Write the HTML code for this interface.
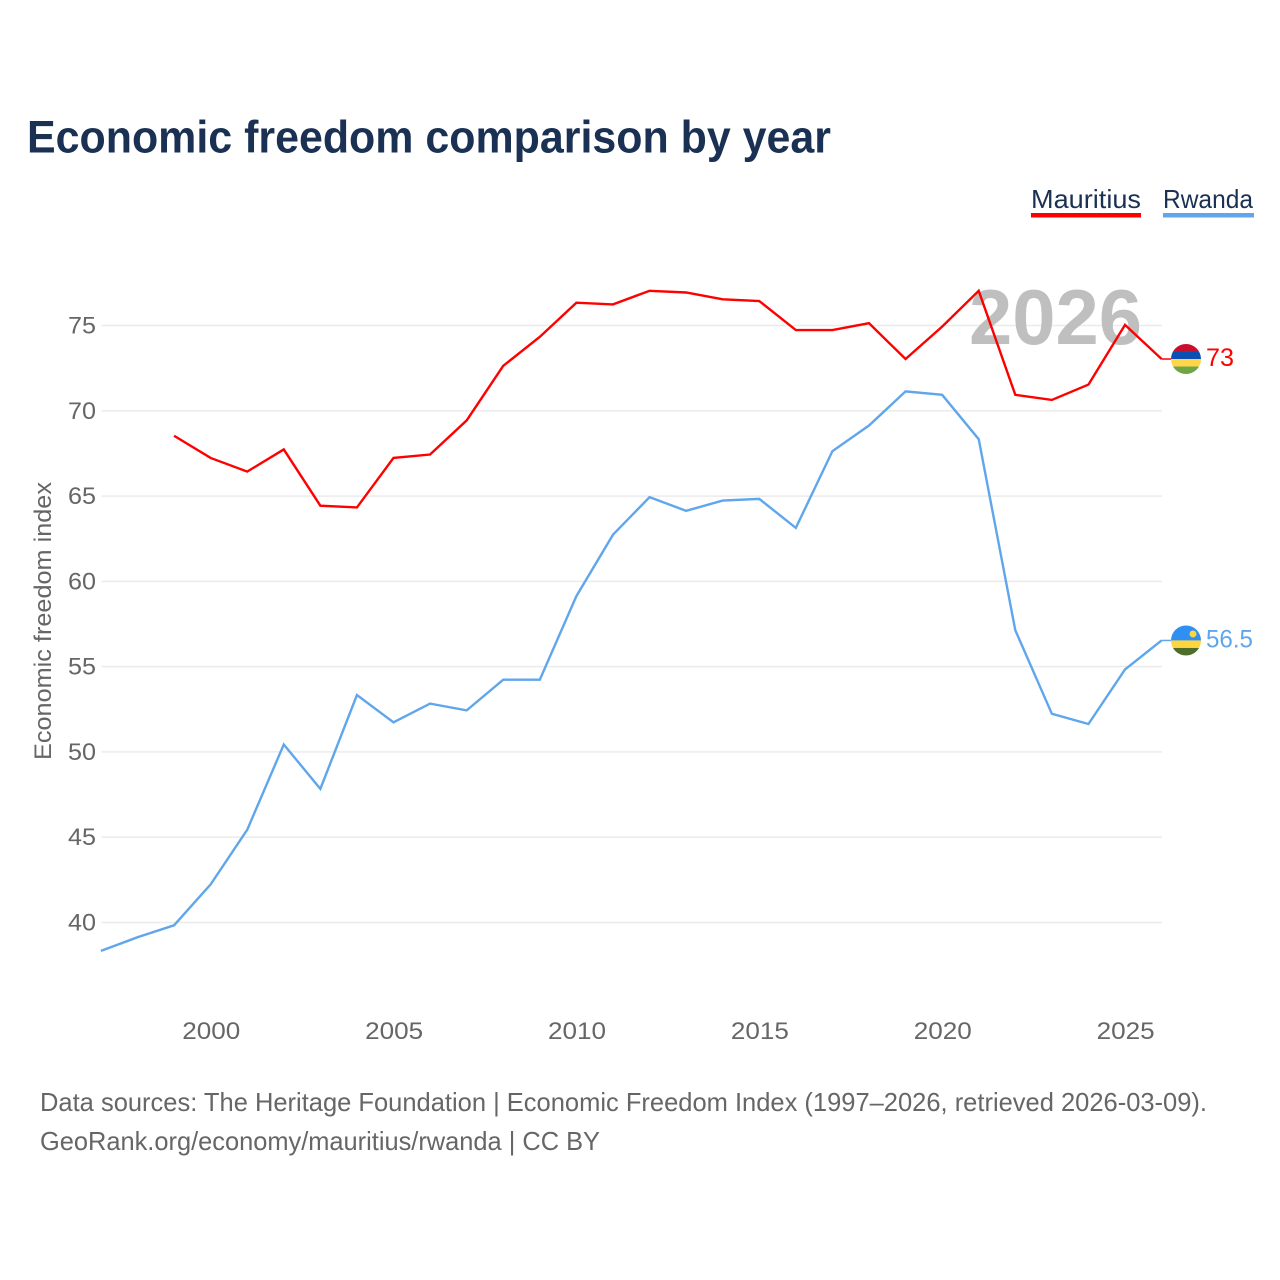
<!DOCTYPE html>
<html lang="en">
<head>
<meta charset="utf-8">
<title>Economic freedom comparison by year</title>
<style>
html,body{margin:0;padding:0;background:#fff;width:1280px;height:1280px;overflow:hidden}
svg{display:block}
text{font-family:"Liberation Sans",sans-serif}
</style>
</head>
<body>
<svg id="chart" xmlns="http://www.w3.org/2000/svg" width="1280" height="1280" viewBox="0 0 1280 1280">
  <rect width="1280" height="1280" fill="#fff"/>
  <text x="27" y="152.5" font-size="45" font-weight="700" fill="#1a3153" textLength="804" lengthAdjust="spacingAndGlyphs">Economic freedom comparison by year</text>
  <g>
    <text x="1031" y="208" font-size="26" fill="#1a3153" textLength="110" lengthAdjust="spacingAndGlyphs">Mauritius</text>
    <rect x="1031" y="213" width="110" height="4.5" fill="#ff0000"/>
  </g>
  <g>
    <text x="1163" y="208" font-size="26" fill="#1a3153" textLength="90" lengthAdjust="spacingAndGlyphs">Rwanda</text>
    <rect x="1163" y="213" width="91" height="4.5" fill="#5fa6ec"/>
  </g>
  <text transform="translate(51,760) rotate(-90)" font-size="24" fill="#666" textLength="278" lengthAdjust="spacingAndGlyphs">Economic freedom index</text>
  <g id="grid"></g>
  <g id="yticks"></g>
  <g id="xticks"></g>
  <text x="969" y="344" font-size="78" font-weight="700" fill="#bfbfbf" textLength="173" lengthAdjust="spacingAndGlyphs">2026</text>
  <g id="series"></g>
  <defs>
    <clipPath id="flag-clip-mauritius"><circle id="clip-m" r="15"/></clipPath>
    <clipPath id="flag-clip-rwanda"><circle id="clip-r" r="15"/></clipPath>
  </defs>
  <g id="flag-mauritius">
    <g clip-path="url(#flag-clip-mauritius)">
      <rect x="-15" y="-15" width="30" height="7.5" fill="#c8102e"/>
      <rect x="-15" y="-7.5" width="30" height="7.5" fill="#0a50b4"/>
      <rect x="-15" y="0" width="30" height="7.5" fill="#ffd54a"/>
      <rect x="-15" y="7.5" width="30" height="7.5" fill="#70a546"/>
    </g>
  </g>
  <g id="flag-rwanda">
    <g clip-path="url(#flag-clip-rwanda)">
      <rect x="-15" y="-15" width="30" height="15" fill="#2f8ff2"/>
      <rect x="-15" y="0" width="30" height="7.5" fill="#fdd53f"/>
      <rect x="-15" y="7.5" width="30" height="7.5" fill="#4f6d2a"/>
      <circle cx="7" cy="-6.5" r="3.5" fill="#fdd53f"/>
    </g>
  </g>
  <text id="label-mauritius" x="1206" font-size="25" fill="#ff0000" textLength="28" lengthAdjust="spacingAndGlyphs"></text>
  <text id="label-rwanda" x="1206" font-size="25" fill="#5fa6ec" textLength="47" lengthAdjust="spacingAndGlyphs"></text>
  <text x="40" y="1111" font-size="26" fill="#666" textLength="1167" lengthAdjust="spacingAndGlyphs">Data sources: The Heritage Foundation | Economic Freedom Index (1997–2026, retrieved 2026-03-09).</text>
  <text x="40" y="1150" font-size="26" fill="#666" textLength="560" lengthAdjust="spacingAndGlyphs">GeoRank.org/economy/mauritius/rwanda | CC BY</text>
</svg>
<script>
const years = [1997,1998,1999,2000,2001,2002,2003,2004,2005,2006,2007,2008,2009,2010,2011,2012,2013,2014,2015,2016,2017,2018,2019,2020,2021,2022,2023,2024,2025,2026];
const mauritiusValues = [null,null,68.5,67.2,66.4,67.7,64.4,64.3,67.2,67.4,69.4,72.6,74.3,76.3,76.2,77.0,76.9,76.5,76.4,74.7,74.7,75.1,73.0,74.9,77.0,70.9,70.6,71.5,75.0,73.0];
const rwandaValues = [38.3,39.1,39.8,42.2,45.4,50.4,47.8,53.3,51.7,52.8,52.4,54.2,54.2,59.1,62.7,64.9,64.1,64.7,64.8,63.1,67.6,69.1,71.1,70.9,68.3,57.1,52.2,51.6,54.8,56.5];
const yTickValues = [40,45,50,55,60,65,70,75];
const xTickValues = [2000,2005,2010,2015,2020,2025];

const NS = 'http://www.w3.org/2000/svg';
function xScale(year){ return 100.9 + (year - 1997) * (1161.6 - 100.9) / (2026 - 1997); }
function yScale(value){ return 921.9 - (value - 40) * (921.9 - 324.9) / (75 - 40); }

const grid = document.getElementById('grid');
const yticks = document.getElementById('yticks');
yTickValues.forEach(function(v){
  const line = document.createElementNS(NS, 'line');
  
  
  line.setAttribute('x1', xScale(1997) + 0.6);
  line.setAttribute('x2', xScale(2026) + 0.4);
  line.setAttribute('y1', yScale(v) + 0.6);
  line.setAttribute('y2', yScale(v) + 0.6);
  line.setAttribute('stroke', '#ebebeb');
  line.setAttribute('stroke-width', '1.5');
  grid.appendChild(line);
  const t = document.createElementNS(NS, 'text');
  
  
  t.setAttribute('x', 68);
  t.setAttribute('y', yScale(v) + 8.6);
  t.setAttribute('textLength', '28');
  t.setAttribute('lengthAdjust', 'spacingAndGlyphs');
  t.setAttribute('font-size', '24');
  t.setAttribute('fill', '#666');
  t.textContent = v;
  yticks.appendChild(t);
});

const xticks = document.getElementById('xticks');
xTickValues.forEach(function(y){
  const t = document.createElementNS(NS, 'text');
  
  
  t.setAttribute('x', xScale(y) - 28.4);
  t.setAttribute('y', 1039);
  t.setAttribute('textLength', '58');
  t.setAttribute('lengthAdjust', 'spacingAndGlyphs');
  t.setAttribute('font-size', '24');
  t.setAttribute('fill', '#666');
  t.textContent = y;
  xticks.appendChild(t);
});

function linePath(values){
  let d = '';
  values.forEach(function(v, i){
    if (v === null) return;
    d += (d ? 'L' : 'M') + xScale(years[i]).toFixed(2) + ' ' + yScale(v).toFixed(2);
  });
  return d;
}

const series = document.getElementById('series');
const rwandaLine = document.createElementNS(NS, 'path');


rwandaLine.setAttribute('d', linePath(rwandaValues));
rwandaLine.setAttribute('fill', 'none');
rwandaLine.setAttribute('stroke', '#5fa6ec');
rwandaLine.setAttribute('stroke-width', '2.4');
series.appendChild(rwandaLine);

const mauritiusLine = document.createElementNS(NS, 'path');


mauritiusLine.setAttribute('d', linePath(mauritiusValues));
mauritiusLine.setAttribute('fill', 'none');
mauritiusLine.setAttribute('stroke', '#ff0000');
mauritiusLine.setAttribute('stroke-width', '2.4');
series.appendChild(mauritiusLine);

function placeEnd(values, color, flagId, clipId, labelId, connectorName){
  const last = values[values.length - 1];
  const yPos = yScale(last);
  const c = document.createElementNS(NS, 'line');
  
  
  c.setAttribute('x1', xScale(2026));
  c.setAttribute('x2', 1171);
  c.setAttribute('y1', yPos);
  c.setAttribute('y2', yPos);
  c.setAttribute('stroke', color);
  c.setAttribute('stroke-width', '1.5');
  series.appendChild(c);
  document.getElementById(flagId).setAttribute('transform', 'translate(1186,' + yPos + ')');
  const clip = document.getElementById(clipId);
  clip.setAttribute('cx', 0);
  clip.setAttribute('cy', 0);
  const label = document.getElementById(labelId);
  label.setAttribute('y', yPos + 7);
  label.textContent = last;
}
placeEnd(mauritiusValues, '#ff0000', 'flag-mauritius', 'clip-m', 'label-mauritius', 'connector-mauritius');
placeEnd(rwandaValues, '#5fa6ec', 'flag-rwanda', 'clip-r', 'label-rwanda', 'connector-rwanda');
</script>
</body>
</html>
